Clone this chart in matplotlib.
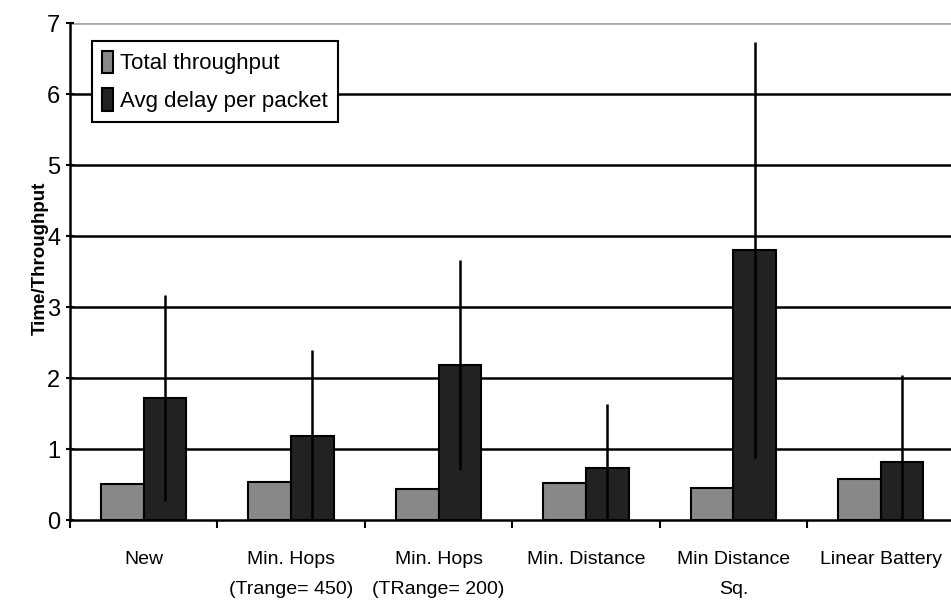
import numpy as np
import matplotlib
matplotlib.use("Agg")
import matplotlib.pyplot as plt

# chart data
categories = ["New", "Min. Hops\n(Trange= 450)", "Min. Hops\n(TRange= 200)",
              "Min. Distance", "Min Distance\nSq.", "Linear Battery"]
throughput = [0.51, 0.54, 0.44, 0.52, 0.45, 0.58]
delay = [1.72, 1.18, 2.18, 0.73, 3.81, 0.82]
delay_err = [1.45, 1.22, 1.48, 0.90, 2.93, 1.22]

plt.rcParams['font.family'] = ['Liberation Sans Narrow', 'Liberation Sans', 'DejaVu Sans']

fig = plt.figure(figsize=(9.51, 6.09), dpi=100)
ax = fig.add_axes([0.0736, 0.146, 0.93, 0.816])

x = np.arange(len(categories))
w = 0.29
ax.bar(x - w / 2, throughput, w, color='#888888', edgecolor='black', linewidth=1.5,
       label='Total throughput', zorder=3)
ax.bar(x + w / 2, delay, w, color='#222222', edgecolor='black', linewidth=1.5,
       label='Avg delay per packet', zorder=3)
ax.errorbar(x + w / 2, delay, yerr=delay_err, fmt='none', ecolor='black',
            elinewidth=1.8, capsize=0, zorder=4)

ax.set_ylim(0, 7)
ax.set_xlim(-0.5, 5.45)
ax.set_yticks(range(8))
for v in range(1, 7):
    ax.axhline(v, color='black', linewidth=1.8, zorder=1)
ax.axhline(7, color='#aaaaaa', linewidth=2, zorder=1)

ax.set_xticks(x)
ax.set_xticklabels(categories, fontsize=14, linespacing=2.0)
ax.set_xticks(np.arange(-0.5, 5.6, 1), minor=True)
ax.tick_params(axis='x', which='major', length=0, pad=22)
ax.tick_params(axis='x', which='minor', length=6, width=1.5, direction='out')
ax.tick_params(axis='y', labelsize=17, length=6, width=1.5, direction='inout', pad=4)

for side in ['top', 'right']:
    ax.spines[side].set_visible(False)
ax.spines['left'].set_linewidth(1.8)
ax.spines['bottom'].set_linewidth(1.8)

ax.set_ylabel('Time/Throughput', fontsize=13.5, fontweight='bold')
ax.yaxis.set_label_coords(-0.024, 0.527)

leg = ax.legend(loc='upper left', bbox_to_anchor=(0.025, 0.965), fontsize=16,
                frameon=True, fancybox=False, edgecolor='black', framealpha=1,
                handlelength=0.5, handleheight=1.2, handletextpad=0.3,
                borderpad=0.45, labelspacing=0.6, borderaxespad=0)
leg.get_frame().set_linewidth(1.5)
leg.set_zorder(5)

fig.savefig('out.png', dpi=100, facecolor='white')
